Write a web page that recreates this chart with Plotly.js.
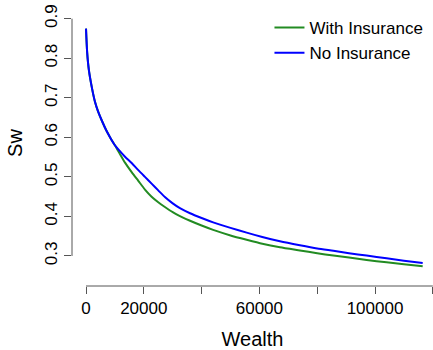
<!DOCTYPE html>
<html>
<head>
<meta charset="utf-8">
<script src="https://cdn.plot.ly/plotly-3.0.1.min.js"></script>
<style>html,body{margin:0;padding:0;background:#fff;}#chart{width:433px;height:350px;}</style>
</head>
<body>
<div id="chart"></div>
<script>
// Wealth grid and Sw values
const wealth = [0, 400, 1000, 2000, 3100, 4200, 5500, 7000, 8500, 10000, 11500, 13500, 15800, 18100, 20400, 22700, 25000, 27300, 30000, 32500, 36000, 40000, 44000, 50000, 55600, 61000, 67100, 74000, 80000, 85600, 91000, 97100, 104000, 110000, 116500];
const swWith = [0.875, 0.815, 0.770, 0.727, 0.690, 0.665, 0.642, 0.618, 0.598, 0.580, 0.561, 0.536, 0.512, 0.490, 0.468, 0.450, 0.436, 0.424, 0.411, 0.401, 0.389, 0.377, 0.366, 0.352, 0.341, 0.331, 0.322, 0.314, 0.307, 0.301, 0.296, 0.290, 0.284, 0.279, 0.274];
const swNo   = [0.875, 0.815, 0.770, 0.727, 0.690, 0.665, 0.642, 0.618, 0.598, 0.580, 0.567, 0.551, 0.535, 0.517, 0.500, 0.483, 0.466, 0.449, 0.433, 0.421, 0.408, 0.396, 0.385, 0.371, 0.359, 0.348, 0.337, 0.327, 0.319, 0.313, 0.307, 0.301, 0.294, 0.288, 0.282];
const seriesNames = ["With Insurance", "No Insurance"];
const xTickVals = [0, 20000, 40000, 60000, 80000, 100000, 120000];
const xTickText = ["0", "20000", "", "60000", "", "100000", ""];
const yTickVals = [0.3, 0.4, 0.5, 0.6, 0.7, 0.8, 0.9];
const yTickText = ["0.3", "0.4", "0.5", "0.6", "0.7", "0.8", "0.9"];

const font = "Liberation Sans, Arial, Helvetica, sans-serif";
const axisCol = "#555";

const traces = [
  {x: wealth, y: swWith, name: seriesNames[0], type: "scatter", mode: "lines",
   line: {color: "#228B22", width: 2, shape: "spline", smoothing: 0.6}},
  {x: wealth, y: swNo, name: seriesNames[1], type: "scatter", mode: "lines",
   line: {color: "#0000FF", width: 2, shape: "spline", smoothing: 0.6}}
];

const layout = {
  width: 433, height: 350,
  margin: {l: 72, r: 0, t: 0, b: 64, pad: 0},
  paper_bgcolor: "#fff", plot_bgcolor: "#fff",
  font: {family: font, size: 17, color: "#000"},
  showlegend: true,
  legend: {x: 0.547, y: 0.965, xanchor: "left", yanchor: "top",
           bgcolor: "rgba(0,0,0,0)", font: {family: font, size: 17, color: "#000"},
           tracegroupgap: 0, itemwidth: 30},
  xaxis: {range: [-4844, 120069], showgrid: false, zeroline: false, showline: false,
          ticks: "outside", ticklen: 7, tickwidth: 1, tickcolor: axisCol,
          tickvals: xTickVals, ticktext: xTickText,
          tickfont: {family: font, size: 17, color: "#000"},
          title: {text: "Wealth", font: {family: font, size: 20, color: "#000"}, standoff: 21}},
  yaxis: {range: [0.2241, 0.9473], showgrid: false, zeroline: false, showline: false,
          ticks: "outside", ticklen: 7, tickwidth: 1, tickcolor: axisCol,
          tickvals: yTickVals, ticktext: yTickText, tickangle: -90,
          tickfont: {family: font, size: 17, color: "#000"},
          title: {text: "Sw", font: {family: font, size: 20, color: "#000"}, standoff: 14}},
  shapes: [
    {type: "line", xref: "x", yref: "paper", x0: xTickVals[0], x1: xTickVals[xTickVals.length - 1], y0: 0, y1: 0,
     line: {color: axisCol, width: 1}},
    {type: "line", xref: "paper", yref: "y", x0: 0, x1: 0, y0: yTickVals[0], y1: yTickVals[yTickVals.length - 1],
     line: {color: axisCol, width: 1}}
  ]
};

Plotly.newPlot("chart", traces, layout, {displayModeBar: false, staticPlot: true});
</script>
</body>
</html>
